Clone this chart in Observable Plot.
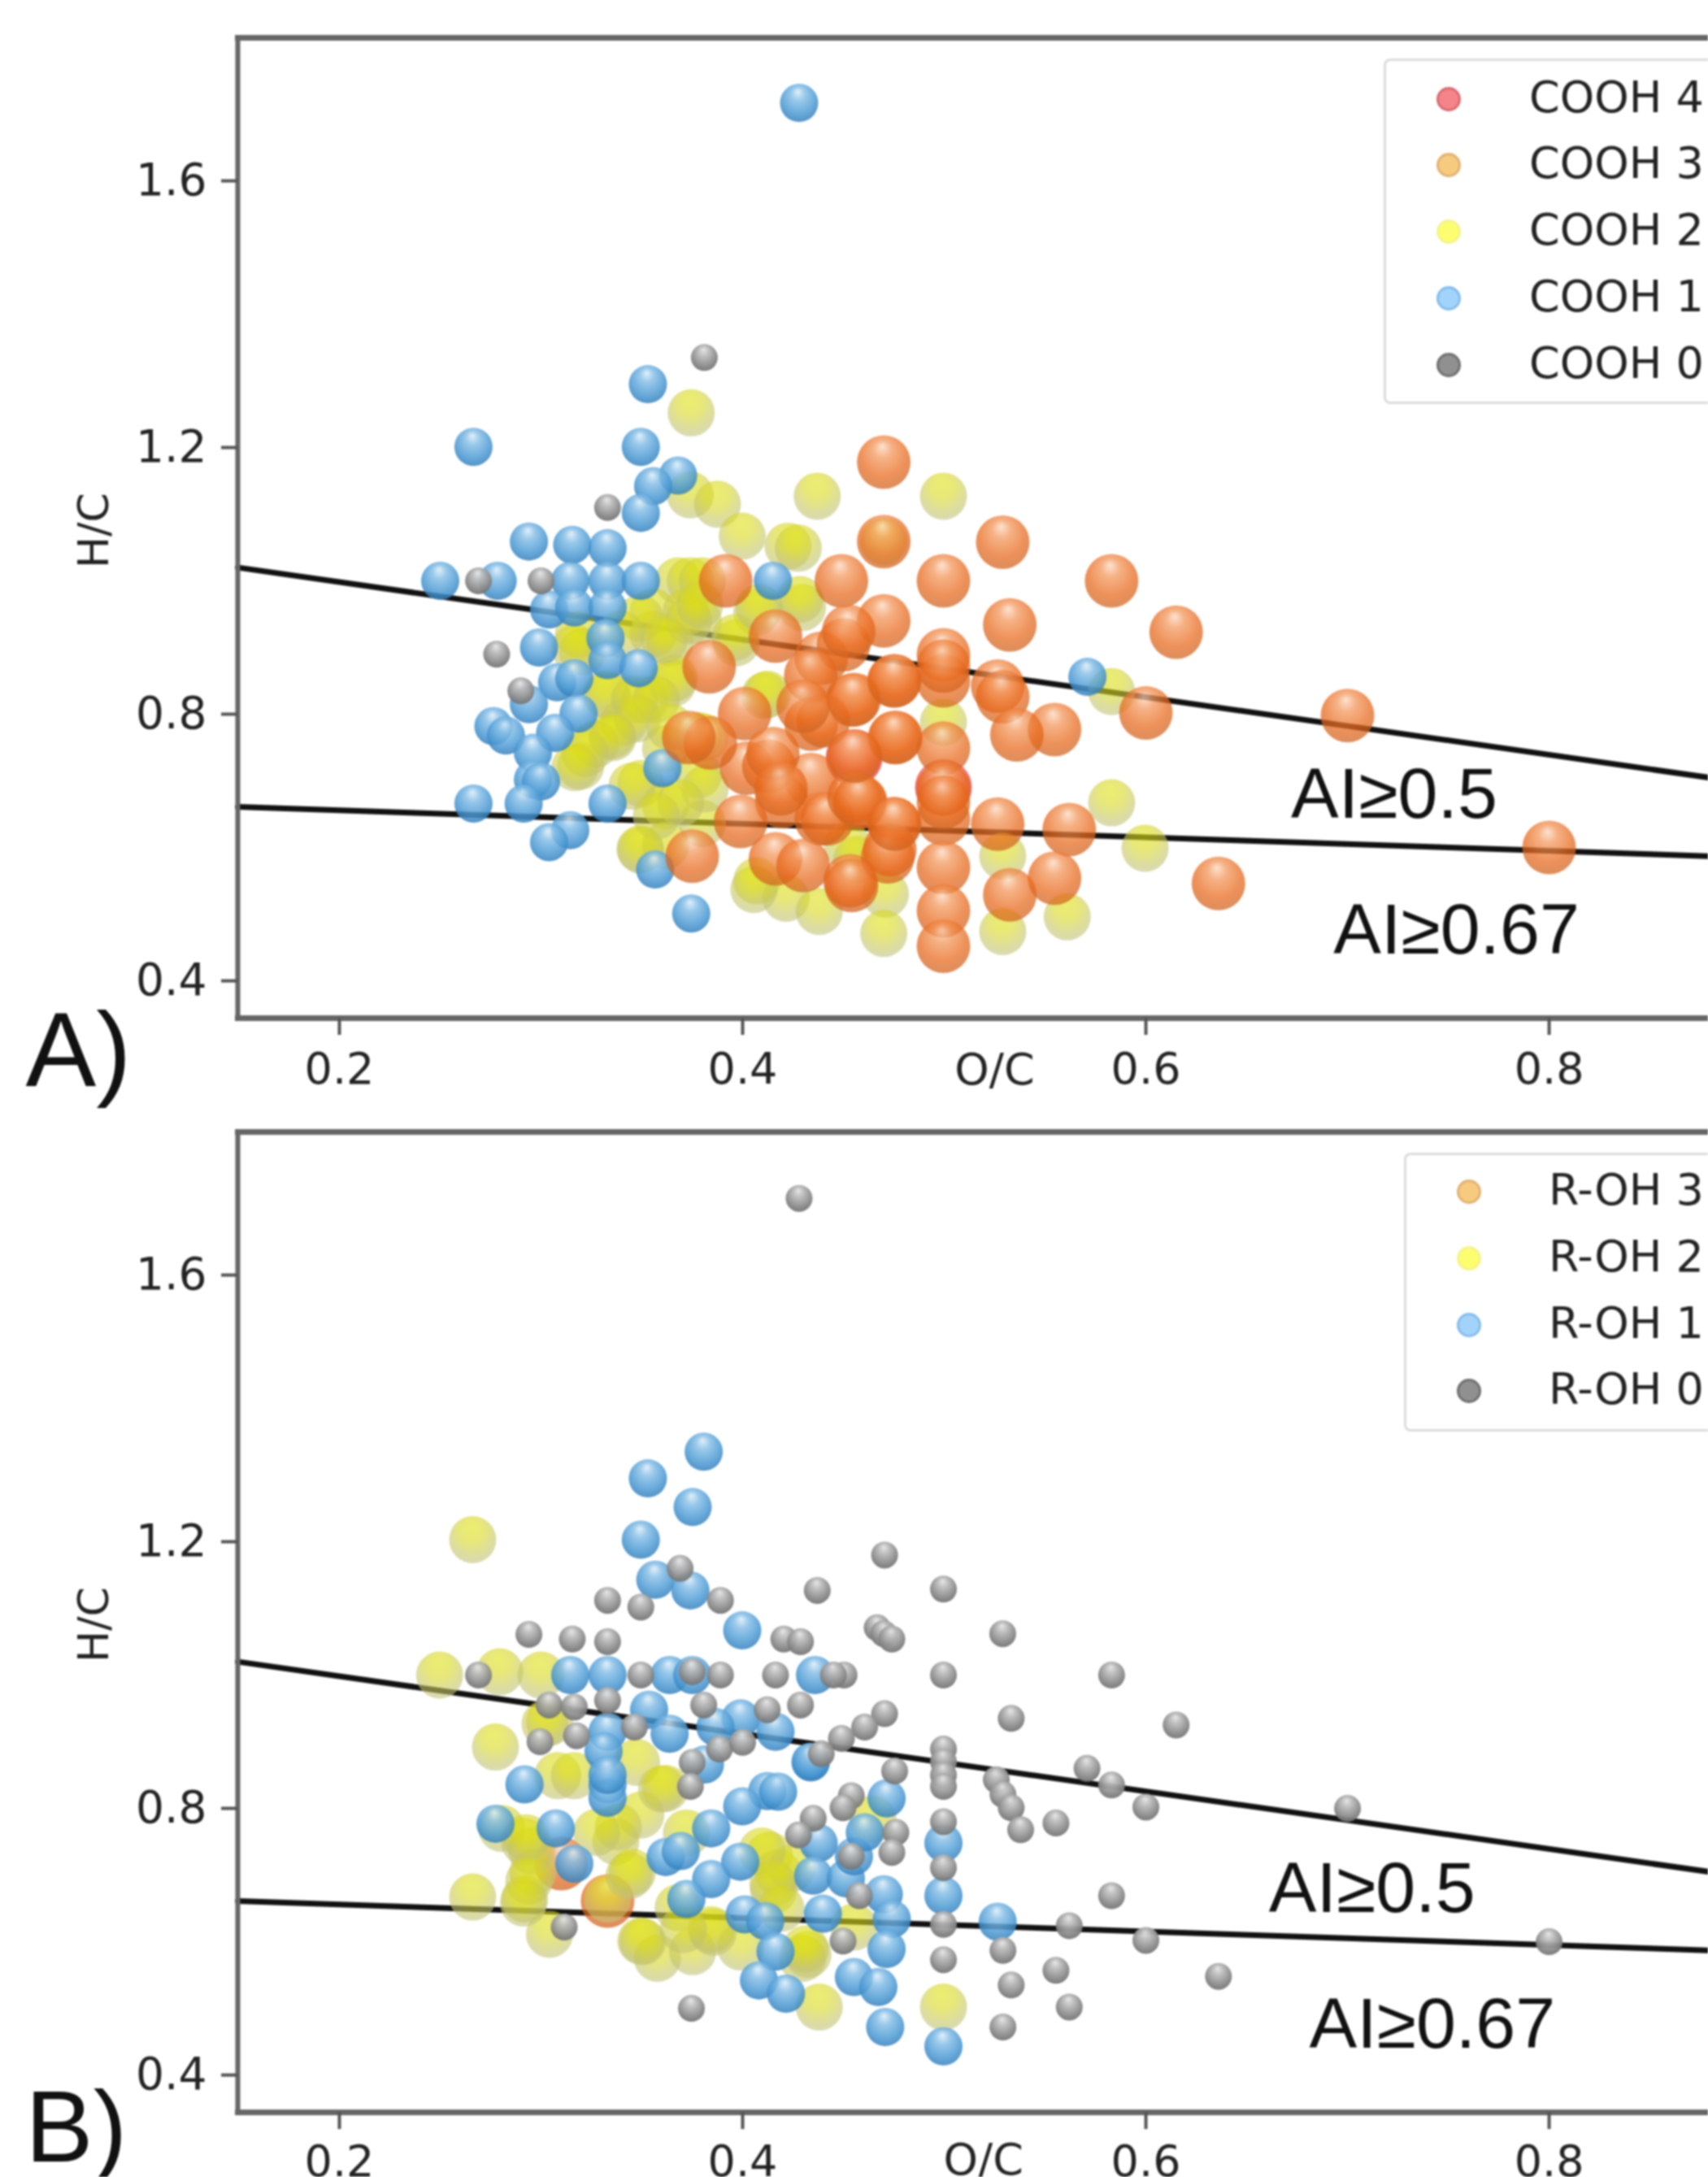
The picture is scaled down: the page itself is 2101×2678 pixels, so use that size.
<!DOCTYPE html>
<html>
<head>
<meta charset="utf-8">
<script src="https://cdn.jsdelivr.net/npm/d3@7"></script>
<script src="https://cdn.jsdelivr.net/npm/@observablehq/plot@0.6"></script>
<style>
html,body{margin:0;padding:0;background:#fff;width:2101px;height:2678px;overflow:hidden}
#page{position:relative;width:2101px;height:2678px;overflow:hidden;filter:blur(1px)}
#page>svg.plot{position:absolute;left:0}
.legend{position:absolute;box-sizing:border-box;background:#fff;border:3px solid #dcdcdc;border-right:none;border-radius:8px 0 0 8px;font:54px 'DejaVu Sans';color:#222}
.legend div{position:absolute;white-space:nowrap;line-height:1}
.legend .sw{width:30px;height:30px;border-radius:50%;box-sizing:border-box}
</style>
</head>
<body>
<svg width="0" height="0" style="position:absolute" id="defs-host"></svg>
<div id="page"></div>
<script>
// Axis ticks
const xTicks = [0.2, 0.4, 0.6, 0.8];
const yTicks = [0.4, 0.8, 1.2, 1.6];
// AI reference lines (O/C, H/C)
const lineOC = [0.1496, 0.879];
const lineAI05 = [1.02, 0.705];
const lineAI067 = [0.661, 0.587];

// Panel A: number of COOH groups; [O/C, H/C]
const cooh4 = [[.4553,.735],[.4996,.69]];
const cooh3 = [[.47,1.178],[.47,1.059],[.4996,1.0],[.449,1.0],[.3916,1.0],[.47,.94],[.4163,.917],[.439,.884],[.45,.904],[.4996,.889],[.4996,.85],[.475,.85],[.4544,.821],[.3834,.871],[.434,.785],[.401,.801],[.476,.765],[.402,.719],[.413,.722],[.434,.702],[.4585,.669],[.4194,.669],[.439,.643],[.399,.639],[.375,.587],[.4163,.583],[.43,.573],[.4533,.55],[.473,.597],[.475,.636],[.583,1.0],[.5325,.934],[.615,.923],[.5265,.842],[.529,.826],[.5547,.777],[.536,.769],[.60,.802],[.4996,.749],[.4996,.643],[.442,.643],[.5265,.635],[.562,.627],[.472,.586],[.5547,.554],[.5325,.529],[.4996,.57],[.4996,.505],[.4996,.452],[.7,.798],[.8,.6],[.636,.546],[.529,1.058],[.415,.741],[.419,.688],[.4526,.924],[.4338,.858],[.4553,.676],[.384,.757],[.3733,.765],[.44,.79],[.4754,.765],[.458,.668],[.4553,.822],[.4754,.635],[.454,.543],[.4996,.688],[.4996,.668],[.4553,.737],[.4996,.872],[.4754,.85],[.43,.812]];
const cooh2 = [[.3745,1.252],[.437,1.127],[.4996,1.127],[.374,1.129],[.3875,1.115],[.3998,1.067],[.4225,1.052],[.4276,1.049],[.47,1.059],[.368,1.0],[.374,1.0],[.38,1.0],[.4297,.96],[.3556,.953],[.372,.953],[.378,.94],[.3186,.92],[.407,.953],[.3556,.92],[.364,.907],[.3206,.894],[.3968,.907],[.333,.828],[.366,.854],[.3515,.821],[.341,.788],[.335,.768],[.327,.755],[.3196,.722],[.3618,.748],[.411,.828],[.378,.768],[.3495,.696],[.378,.709],[.3618,.663],[.38,.636],[.3495,.596],[.3618,.603],[.407,.55],[.4215,.524],[.438,.504],[.4708,.53],[.47,.471],[.452,.603],[.4996,.788],[.529,.587],[.529,.474],[.561,.496],[.583,.667],[.5996,.599],[.583,.834],[.3323,.83],[.3464,.822],[.3652,.846],[.3572,.822],[.3478,.793],[.3357,.765],[.322,.741],[.3168,.72],[.3639,.781],[.3814,.765],[.3451,.692],[.3814,.688],[.3693,.667],[.3572,.647],[.3491,.598],[.4056,.537],[.4566,.582],[.4123,.83],[.3491,.944],[.3733,.94],[.3787,.964],[.3168,.899],[.3397,.92],[.3612,.911],[.3961,.915],[.4082,.96],[.4284,.972]];
const cooh1 = [[.428,1.717],[.353,1.295],[.2665,1.201],[.3495,1.201],[.368,1.158],[.3556,1.142],[.3495,1.102],[.294,1.059],[.3155,1.054],[.333,1.049],[.25,1.0],[.2785,1.0],[.3145,1.0],[.333,1.0],[.3495,1.0],[.415,1.0],[.304,.957],[.3165,.96],[.333,.96],[.332,.914],[.299,.9],[.333,.881],[.3484,.869],[.308,.848],[.3165,.854],[.294,.815],[.3186,.801],[.2764,.782],[.2826,.768],[.307,.772],[.296,.742],[.296,.702],[.30,.699],[.3602,.719],[.333,.666],[.2665,.666],[.2914,.666],[.3145,.626],[.304,.608],[.3566,.567],[.3745,.501],[.571,.856]];
const cooh0 = [[.381,1.335],[.333,1.11],[.269,1.0],[.30,1.0],[.278,.89],[.29,.835]];

// Panel B: number of R-OH groups; [O/C, H/C]
const roh3 = [[.31,.717],[.333,.661]];
const roh2 = [[.2661,1.203],[.2497,1.0],[.2795,1.005],[.3,1.0],[.2774,.892],[.3083,.849],[.3165,.849],[.3474,.869],[.3042,.929],[.3618,.83],[.2805,.77],[.2918,.75],[.296,.704],[.2918,.664],[.2661,.667],[.3042,.611],[.333,.664],[.3371,.75],[.3495,.79],[.3453,.704],[.368,.651],[.3495,.601],[.3577,.575],[.3752,.585],[.3844,.618],[.399,.592],[.4132,.73],[.4153,.677],[.4297,.575],[.438,.502],[.4996,.502],[.3721,.763],[.4646,.784],[.4552,.622],[.4324,.581],[.4176,.703],[.4245,.71],[.2953,.736],[.2926,.756],[.294,.691],[.2913,.658],[.3437,.699],[.3383,.772],[.3276,.764],[.3504,.6],[.3854,.614],[.4096,.736],[.415,.687],[.419,.65],[.4311,.589],[.302,.927],[.3706,.618],[.3598,.829]];
const roh1 = [[.3807,1.335],[.353,1.295],[.3752,1.252],[.3495,1.203],[.3567,1.143],[.3741,1.127],[.3998,1.067],[.3145,1.0],[.333,1.0],[.3638,1.0],[.375,1.0],[.4359,1.0],[.3536,.948],[.399,.935],[.333,.915],[.3638,.912],[.3865,.922],[.4163,.915],[.331,.886],[.4338,.869],[.3813,.866],[.2918,.836],[.333,.836],[.333,.816],[.4122,.826],[.3998,.803],[.3844,.77],[.2774,.777],[.3073,.77],[.3165,.717],[.3618,.727],[.3988,.72],[.3844,.694],[.3721,.664],[.401,.641],[.4112,.631],[.4163,.585],[.4081,.542],[.4215,.522],[.4377,.748],[.435,.699],[.4512,.695],[.4552,.728],[.4606,.764],[.4714,.815],[.4398,.642],[.47,.671],[.474,.634],[.4714,.589],[.4552,.547],[.4673,.532],[.4707,.472],[.4996,.748],[.4996,.669],[.4996,.443],[.5265,.63],[.4337,.87],[.4176,.825],[.3693,.736],[.333,.85]];
const roh0 = [[.428,1.715],[.369,1.16],[.333,1.112],[.3495,1.102],[.389,1.112],[.294,1.061],[.3155,1.054],[.333,1.05],[.4204,1.054],[.4287,1.05],[.437,1.127],[.4704,1.18],[.4996,1.129],[.4667,1.071],[.47,1.062],[.474,1.054],[.269,1.0],[.3495,1.0],[.375,1.005],[.389,1.0],[.4163,1.0],[.4503,1.0],[.445,1.0],[.4996,1.0],[.304,.955],[.3165,.952],[.333,.962],[.3807,.955],[.4287,.955],[.4122,.948],[.4704,.942],[.4605,.922],[.449,.905],[.439,.882],[.4996,.889],[.4996,.87],[.4996,.85],[.4996,.833],[.2995,.9],[.3176,.909],[.3463,.922],[.3885,.889],[.4,.899],[.375,.869],[.3741,.833],[.4754,.856],[.5332,.935],[.5258,.843],[.5291,.821],[.5332,.801],[.5379,.768],[.5554,.778],[.5708,.86],[.583,.835],[.583,1.0],[.4539,.819],[.4498,.801],[.435,.785],[.4277,.76],[.476,.764],[.474,.734],[.4539,.728],[.4996,.78],[.4996,.711],[.4579,.669],[.4498,.601],[.4996,.626],[.4996,.573],[.5291,.587],[.5332,.535],[.5291,.472],[.5554,.557],[.562,.502],[.583,.669],[.562,.624],[.6,.802],[.615,.925],[.7,.8],[.8,.6],[.636,.548],[.6,.602],[.529,1.062],[.3746,.5],[.3115,.622]];

// Shaded sphere gradients
const shades = {
  red:    {o:.72, stops:[[0,"#fcd0c8"],[.35,"#f78878"],[.75,"#e83a30"],[1,"#c84038"]]},
  orange: {o:.73, stops:[[0,"#fbd8c0"],[.28,"#f29558"],[.68,"#e8681c"],[.93,"#d06420"],[1,"#d68250"]]},
  yellow: {o:.6,  stops:[[0,"#dfe210"],[.42,"#d8d820"],[.8,"#c4c468"],[1,"#c2c284"]]},
  blue:   {o:.84, stops:[[0,"#dcedf8"],[.3,"#86bee6"],[.7,"#4c9ad4"],[.94,"#3480bc"],[1,"#72a8d0"]]},
  gray:   {o:.94, stops:[[0,"#e6e6e6"],[.3,"#bcbcbc"],[.72,"#8c8c8c"],[.94,"#747474"],[1,"#a8a8a8"]]}
};
const sizes = {red:35, orange:33, yellow:29, blue:23.5, gray:16.5};

const defs = d3.select("#defs-host").append("defs");
for (const [name, s] of Object.entries(shades)) {
  const g = defs.append("radialGradient").attr("id", "sph-" + name)
    .attr("cx", .5).attr("cy", .42).attr("r", .62).attr("fx", .47).attr("fy", .2);
  for (const [off, c] of s.stops) g.append("stop").attr("offset", off).attr("stop-color", c).attr("stop-opacity", s.o);
}

const lines = lineOC.map((x, i) => ({x, a: lineAI05[i], b: lineAI067[i]}));

function panel({height, series, labels, letter, letterSize, tickPad}) {
  return Plot.plot({
    width: 2101, height, marginLeft: 292, marginRight: 0, marginTop: 46, marginBottom: height - 1252,
    x: {domain: [0.1496, 0.879], range: [292, 2101]},
    y: {domain: [0.344, 1.8146], range: [1252, 46]},
    style: {fontFamily: "'DejaVu Sans'", background: "transparent", overflow: "visible", color: "#222"},
    marks: [
      Plot.line(lines, {x: "x", y: "a", stroke: "#111", strokeWidth: 7}),
      Plot.line(lines, {x: "x", y: "b", stroke: "#111", strokeWidth: 7}),
      ...series.map(([rows, shade]) => Plot.dot(rows, {x: d => d[0], y: d => d[1], r: sizes[shade], fill: `url(#sph-${shade})`})),
      Plot.frame({anchor: "left", stroke: "#666", strokeWidth: 6}),
      Plot.frame({anchor: "top", stroke: "#666", strokeWidth: 7}),
      Plot.frame({anchor: "bottom", stroke: "#666", strokeWidth: 7}),
      Plot.axisX(xTicks, {anchor: "bottom", label: null, tickFormat: ".1f", tickSize: 21, tickPadding: tickPad, fontSize: 54, stroke: "#555", strokeWidth: 4, fill: "#222"}),
      Plot.axisY(yTicks, {anchor: "left", label: null, tickFormat: ".1f", tickSize: 20, tickPadding: 18, fontSize: 55, stroke: "#555", strokeWidth: 4, fill: "#222"}),
      Plot.text(["O/C"], {x: labels.ocX, y: labels.ocY, text: d => d, fontSize: 54, fill: "#222", lineAnchor: "bottom"}),
      Plot.text(["H/C"], {x: 0.0786, y: 1.0756, text: d => d, fontSize: 52, fill: "#222", rotate: -90}),
      Plot.text(["AI≥0.5"], {x: labels.a5x, y: 0.644, text: d => d, fontFamily: "'Liberation Sans'", fontSize: 88, fill: "#111", textAnchor: "start", lineAnchor: "bottom"}),
      Plot.text(["AI≥0.67"], {x: labels.a67x, y: 0.441, text: d => d, fontFamily: "'Liberation Sans'", fontSize: 88, fill: "#111", textAnchor: "start", lineAnchor: "bottom"}),
      Plot.text([letter], {x: labels.lx, y: labels.ly, text: d => d, fontFamily: "'Liberation Sans'", fontSize: letterSize, fill: "#111", textAnchor: "start", lineAnchor: "bottom"})
    ]
  });
}

const page = document.getElementById("page");
const plotA = panel({height: 1346, letter: "A)", letterSize: 130, tickPad: 21,
  series: [[cooh4,"red"],[cooh2,"yellow"],[cooh1,"blue"],[cooh3,"orange"],[cooh0,"gray"]],
  labels: {ocX: .525, ocY: .2451, a5x: .672, a67x: .693, lx: .0444, ly: .2427}});
plotA.style.top = "0px";
const plotB = panel({height: 1332, letter: "B)", letterSize: 125, tickPad: 19,
  series: [[roh3,"orange"],[roh2,"yellow"],[roh1,"blue"],[roh0,"gray"]],
  labels: {ocX: .5194, ocY: .2512, a5x: .661, a67x: .681, lx: .0443, ly: .2705}});
plotB.style.top = "1346px";
page.append(plotA, plotB);

// Legends
const swatches = {
  red: "background:#f5848a;border:3px solid #d86a70",
  orange: "background:#f6cb80;border:3px solid #e2b272",
  yellow: "background:#fdfd70;border:3px solid #f4f48a",
  blue: "background:#a2d4fb;border:3px solid #84bcec",
  gray: "background:#909090;border:3px solid #707070"
};
function legend(left, top, height, firstRow, items, textLeft) {
  const box = document.createElement("div");
  box.className = "legend";
  box.style.cssText = `left:${left}px;top:${top}px;width:${2140 - left}px;height:${height}px`;
  items.forEach(([label, shade], i) => {
    const y = firstRow + i * 81.8 - top - 3;
    const sw = document.createElement("div");
    sw.className = "sw";
    sw.style.cssText = `left:${62}px;top:${y - 15}px;` + swatches[shade];
    const t = document.createElement("div");
    t.textContent = label;
    t.style.cssText = `left:${textLeft}px;top:${y - 29}px`;
    box.append(sw, t);
  });
  page.append(box);
}
legend(1702, 72, 425, 121.5, [["COOH 4","red"],["COOH 3","orange"],["COOH 2","yellow"],["COOH 1","blue"],["COOH 0","gray"]], 176);
legend(1727, 1418, 343, 1466, [["R-OH 3","orange"],["R-OH 2","yellow"],["R-OH 1","blue"],["R-OH 0","gray"]], 175);
</script>
</body>
</html>
